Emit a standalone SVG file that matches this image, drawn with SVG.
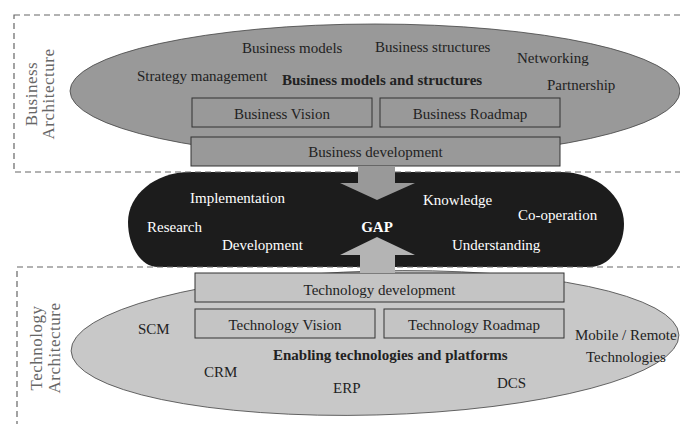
<svg xmlns="http://www.w3.org/2000/svg" width="680" height="424" viewBox="0 0 680 424">
<style>
.t{font-family:"Liberation Serif","Times New Roman",serif;font-size:15px;fill:#222}
.b{font-weight:bold}
.w{fill:#fff}
.c{text-anchor:middle}
.lab{font-family:"Liberation Serif","Times New Roman",serif;font-size:17px;fill:#666;text-anchor:middle;letter-spacing:0.5px}
.dash{fill:none;stroke:#666;stroke-width:1.2;stroke-dasharray:6 4}
.bbox{fill:#999;stroke:#333;stroke-width:1}
.tbox{fill:#c4c4c4;stroke:#333;stroke-width:1}
</style>
<rect width="680" height="424" fill="#fff"/>
<g id="gap">
<path d="M190,172 L560,172 C597,172 624,196 624,224 C624,248 608,267 590,267 L158,267 C140,267 128,245 128,222 C128,195 155,172 190,172 Z" fill="#1c1c1c"/>
</g>
<g id="business-architecture">
<rect class="dash" x="14" y="15" width="700" height="157"/>
<text class="lab" transform="translate(37,94) rotate(-90)">Business</text>
<text class="lab" transform="translate(54,94) rotate(-90)">Architecture</text>
</g>
<g id="technology-architecture">
<rect class="dash" x="17" y="267" width="700" height="200"/>
<text class="lab" transform="translate(42,348) rotate(-90)">Technology</text>
<text class="lab" transform="translate(60,348) rotate(-90)">Architecture</text>
</g>
<g id="business-ellipse">
<ellipse cx="375" cy="91" rx="305" ry="67" fill="#999" stroke="#444" stroke-width="0.8"/>
<text class="t" x="242" y="53">Business models</text>
<text class="t" x="375" y="52">Business structures</text>
<text class="t" x="517" y="63">Networking</text>
<text class="t" x="137" y="81">Strategy management</text>
<text class="t b" x="282" y="85">Business models and structures</text>
<text class="t" x="547" y="90">Partnership</text>
</g>
<g id="business-vision">
<rect class="bbox" x="192" y="98" width="180" height="29"/>
<text class="t c" x="282" y="119">Business Vision</text>
</g>
<g id="business-roadmap">
<rect class="bbox" x="380" y="98" width="180" height="29"/>
<text class="t c" x="470" y="119">Business Roadmap</text>
</g>
<g id="business-development">
<rect class="bbox" x="191" y="137" width="369" height="29"/>
<text class="t c" x="375.5" y="157">Business development</text>
</g>
<g id="gap-text">
<text class="t w" x="190" y="203">Implementation</text>
<text class="t w" x="423" y="205">Knowledge</text>
<text class="t w" x="518" y="220">Co-operation</text>
<text class="t w" x="147" y="232">Research</text>
<text class="t w b c" x="377" y="232">GAP</text>
<text class="t w" x="222" y="250">Development</text>
<text class="t w" x="452" y="250">Understanding</text>
</g>
<g id="technology-ellipse">
<ellipse cx="375" cy="343" rx="304" ry="72" transform="rotate(-1.5 375 343)" fill="#c8c8c8" stroke="#444" stroke-width="0.8"/>
<text class="t" x="138" y="334">SCM</text>
<text class="t" x="575" y="340">Mobile / Remote</text>
<text class="t" x="586" y="362">Technologies</text>
<text class="t b" x="273" y="360">Enabling technologies and platforms</text>
<text class="t" x="204" y="377">CRM</text>
<text class="t" x="333" y="393">ERP</text>
<text class="t" x="497" y="388">DCS</text>
</g>
<g id="technology-development">
<rect class="tbox" x="195" y="273" width="369" height="29"/>
<text class="t c" x="379.5" y="295">Technology development</text>
</g>
<g id="technology-vision">
<rect class="tbox" x="195" y="309" width="180" height="29"/>
<text class="t c" x="285" y="330">Technology Vision</text>
</g>
<g id="technology-roadmap">
<rect class="tbox" x="384" y="309" width="180" height="29"/>
<text class="t c" x="474" y="330">Technology Roadmap</text>
</g>
<g id="connectors">
<path d="M358,166 L395,166 L395,183 L415,183 L377,200 L340,183 L358,183 Z" fill="#999"/>
<path d="M360,273 L395,273 L395,255 L415,255 L377,237 L340,255 L360,255 Z" fill="#b4b4b4"/>
</g>
</svg>
